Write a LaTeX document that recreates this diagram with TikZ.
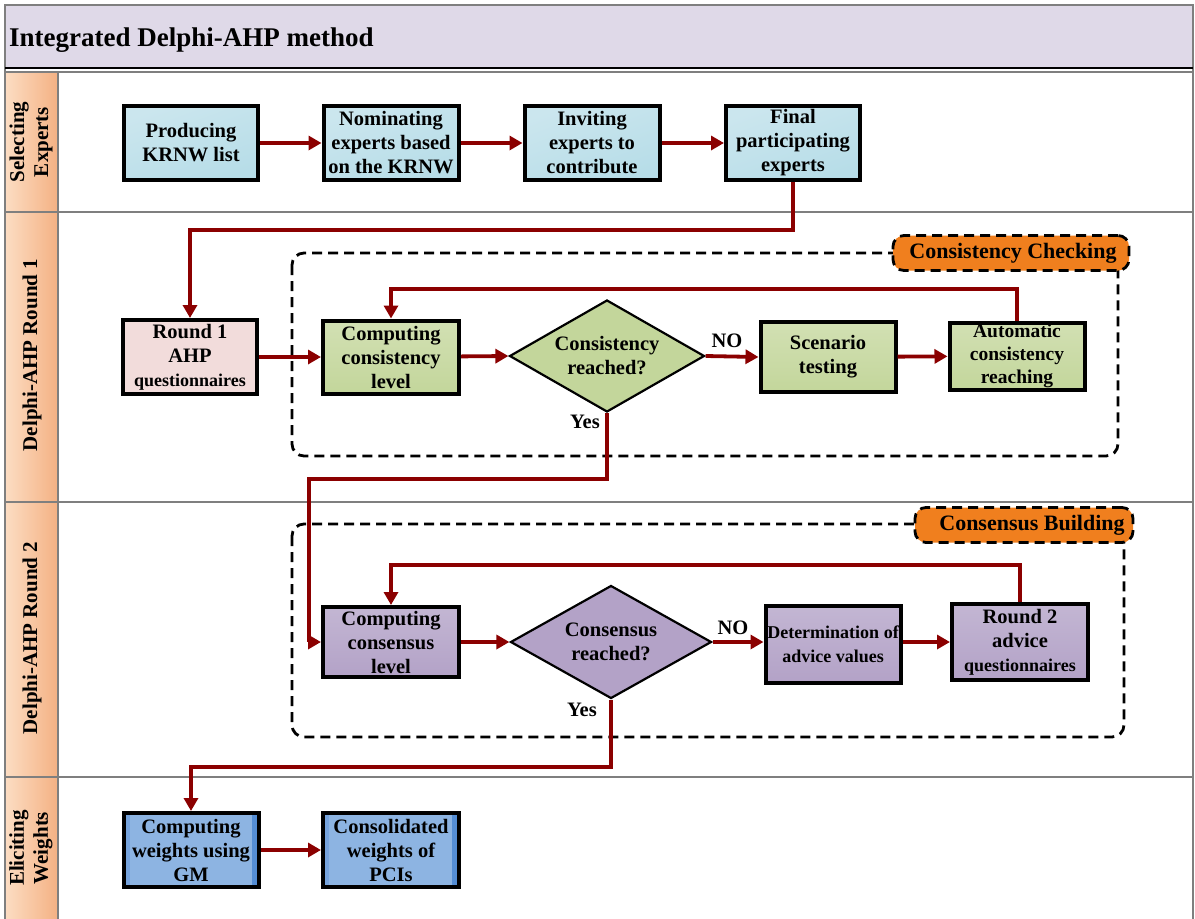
\documentclass[tikz,border=0pt]{standalone}
\usepackage{fontspec}
\setmainfont{Liberation Serif}
\usetikzlibrary{arrows.meta,shapes.geometric,calc}
\definecolor{arrred}{HTML}{8B0000}
\definecolor{titlebg}{HTML}{DFD9E8}
\definecolor{peachL}{HTML}{FCDDC3}
\definecolor{peachR}{HTML}{F4B183}
\definecolor{lblue}{HTML}{B7DDE8}
\definecolor{lblueL}{HTML}{CBE6EE}
\definecolor{lpink}{HTML}{F2DCDB}
\definecolor{lgreen}{HTML}{C3D69B}
\definecolor{lgreenL}{HTML}{D2E0B3}
\definecolor{lpurple}{HTML}{B3A2C7}
\definecolor{lpurpleL}{HTML}{C3B6D3}
\definecolor{lorange}{HTML}{F07F1E}
\definecolor{mblue}{HTML}{8DB4E2}
\definecolor{dblue}{HTML}{558ED5}
\definecolor{lanegray}{HTML}{7F7F7F}
\begin{document}
\begin{tikzpicture}[x=1pt,y=-1pt,
  boxfont/.style={font=\bfseries\fontsize{20.5}{24}\selectfont},
  box/.style={draw=black, line width=4pt, align=center, inner sep=1pt, boxfont},
  bluebox/.style={box, top color=lblueL, bottom color=lblue, shading angle=20},
  greenbox/.style={box, top color=lgreenL, bottom color=lgreen},
  purplebox/.style={box, top color=lpurpleL, bottom color=lpurple},
  wbox/.style={box, fill=mblue, path picture={
      \fill[dblue!80] (path picture bounding box.south west) rectangle ([xshift=6pt]path picture bounding box.north west);
      \fill[dblue] ([xshift=-7pt]path picture bounding box.south east) rectangle (path picture bounding box.north east);}},
  decision/.style={diamond, draw=black, line width=2.2pt, inner sep=0pt},
  dtext/.style={align=center, inner sep=0pt, boxfont},
  arr/.style={draw=arrred, line width=3.8pt, -{Triangle[length=13pt,width=14pt]}},
  lanelabel/.style={rotate=90, align=center, font=\bfseries\fontsize{21}{24}\selectfont},
  dashbox/.style={draw=black, line width=2.8pt, dash pattern=on 10pt off 6pt, rounded corners=12pt},
  tag/.style={draw=black, fill=lorange, line width=2.8pt, dash pattern=on 10pt off 6pt, rounded corners=11pt, font=\bfseries\fontsize{22}{24}\selectfont, inner sep=0pt},
  edgelabel/.style={font=\bfseries\fontsize{20.5}{24}\selectfont, inner sep=0pt}
]
\useasboundingbox (0,0) rectangle (1195,919);
% frame, title and lanes
\fill[titlebg] (5,5) rectangle (1193,68);
\node[anchor=west, inner sep=0pt, font=\bfseries\fontsize{27}{30}\selectfont] (title) at (9,40) {Integrated Delphi-AHP method};
\shade[left color=peachL, right color=peachR] (5,72) rectangle (58,919);
\draw[lanegray, line width=1.4pt] (5,919) -- (5,5) -- (1193,5) -- (1193,919);
\draw[black, line width=1.4pt] (5,68) -- (1193,68);
\draw[lanegray, line width=1.4pt] (5,72) -- (1193,72);
\draw[lanegray, line width=1.4pt] (5,212) -- (1193,212);
\draw[lanegray, line width=1.4pt] (5,502) -- (1193,502);
\draw[lanegray, line width=1.4pt] (5,777) -- (1193,777);
\draw[lanegray, line width=1.4pt] (58,72) -- (58,919);
\node[lanelabel] (lane1) at (31,142) {Selecting\\Experts};
\node[lanelabel] (lane2) at (32,355) {Delphi-AHP Round 1};
\node[lanelabel] (lane3) at (32,638) {Delphi-AHP Round 2};
\node[lanelabel] (lane4) at (31,848) {Eliciting\\Weights};

% dashed groups
\draw[dashbox] (292,253) rectangle (1118,456);
\node[tag, minimum width=236pt, minimum height=35pt] (cctag) at (1011,253) {\hspace*{4pt}Consistency Checking};
\draw[dashbox] (292,524) rectangle (1124,737);
\node[tag, minimum width=218pt, minimum height=35pt] (cbtag) at (1024,525) {\hspace*{16pt}Consensus Building};

% lane 1
\node[bluebox, minimum width=134pt, minimum height=74pt] (s1) at (191,143) {Producing\\KRNW list};
\node[bluebox, minimum width=135pt, minimum height=74pt] (s2) at (391,143) {Nominating\\experts based\\on the KRNW};
\node[bluebox, minimum width=135pt, minimum height=74pt] (s3) at (592,143) {Inviting\\experts to\\contribute};
\node[bluebox, minimum width=134pt, minimum height=74pt] (s4) at (793,143) {Final\\participating\\experts};

% lane 2
\node[box, fill=lpink, minimum width=134pt, minimum height=74pt] (r1) at (190,357) {Round 1\\AHP\\{\fontsize{18}{22}\selectfont questionnaires}};
\node[greenbox, minimum width=136pt, minimum height=73pt] (c1) at (391,357) {Computing\\consistency\\level};
\node[decision, fill=lgreen, minimum width=195pt, minimum height=112pt] (d1) at (607,356) {};
\node[dtext] (d1t) at (607,356) {Consistency\\reached?};
\node[greenbox, minimum width=135pt, minimum height=70pt] (sc) at (828,357) {Scenario\\testing};
\node[greenbox, minimum width=135pt, minimum height=67pt, font=\bfseries\fontsize{19.5}{23}\selectfont] (au) at (1017,356) {Automatic\\consistency\\reaching};

% lane 3
\node[purplebox, minimum width=136pt, minimum height=70pt] (c2) at (391,642) {Computing\\consensus\\level};
\node[decision, fill=lpurple, minimum width=201pt, minimum height=113pt] (d2) at (611,642) {};
\node[dtext] (d2t) at (611,642) {Consensus\\reached?};
\node[purplebox, minimum width=135pt, minimum height=77pt, font=\bfseries\fontsize{18}{24}\selectfont] (dv) at (833,644) {Determination of\\advice values};
\node[purplebox, minimum width=136pt, minimum height=76pt] (r2) at (1020,642) {Round 2\\advice\\{\fontsize{18}{22}\selectfont questionnaires}};

% lane 4
\node[wbox, minimum width=135pt, minimum height=74pt] (w1) at (191,850) {Computing\\weights using\\GM};
\node[wbox, minimum width=136pt, minimum height=74pt] (w2) at (391,850) {Consolidated\\weights of\\PCIs};

% helper coordinates
\coordinate (ya) at (0,230);
\coordinate (yb) at (0,289);
\coordinate (yc) at (0,479);
\coordinate (xc) at (309,0);
\coordinate (yd) at (0,565);
\coordinate (ye) at (0,767);

% connectors lane 1
\draw[arr] (s1) -- (s2);
\draw[arr] (s2) -- (s3);
\draw[arr] (s3) -- (s4);
\draw[arr] (s4.south) -- (s4.south |- ya) -| (r1.north);

% connectors lane 2
\draw[arr] (r1) -- (c1);
\draw[arr] (c1) -- (d1.west);
\draw[arr] (d1.east) -- (sc.west);
\draw[arr] (sc) -- (au);
\draw[arr] (au.north) -- (au.north |- yb) -| (c1.north);
\draw[arr] (d1.south) -- (d1.south |- yc) -| (xc |- c2.west) -- (c2.west);
\node[edgelabel] (no1) at (727,341) {NO};
\node[edgelabel] (yes1) at (585,422) {Yes};

% connectors lane 3
\draw[arr] (c2) -- (d2.west);
\draw[arr] (d2.east) -- (dv.west |- d2.east);
\draw[arr] (dv.east |- r2.west) -- (r2.west);
\draw[arr] (r2.north) -- (r2.north |- yd) -| (c2.north);
\draw[arr] (d2.south) -- (d2.south |- ye) -| (w1.north);
\node[edgelabel] (no2) at (733,628) {NO};
\node[edgelabel] (yes2) at (582,710) {Yes};

% lane 4
\draw[arr] (w1) -- (w2);
\end{tikzpicture}
\end{document}
